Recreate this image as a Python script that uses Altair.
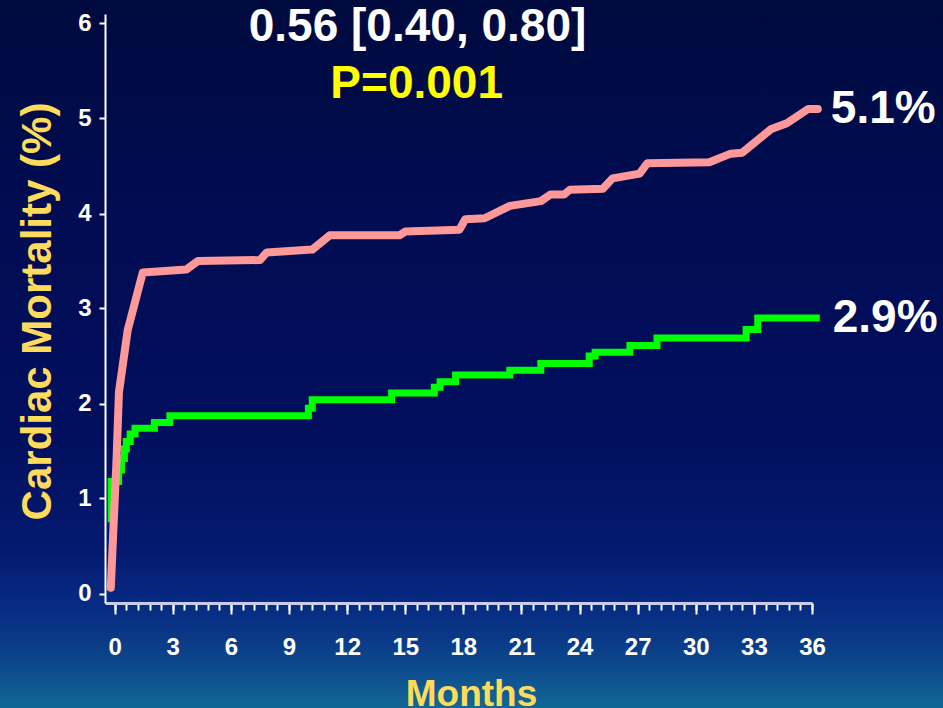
import altair as alt
import pandas as pd

# Cumulative cardiac mortality (%) by month of follow-up
pink_month = [-0.2, -0.08, 0.09, 0.22, 0.67, 1.45, 3.7, 4.3, 7.5, 7.85, 10.2, 11.1,
              14.7, 15.0, 17.8, 18.1, 19.1, 20.4, 22.0, 22.5, 23.2, 23.5, 25.2, 25.7,
              27.1, 27.5, 30.7, 31.8, 32.4, 33.9, 34.7, 35.8, 36.3]
pink_pct = [0.06, 0.62, 1.38, 2.12, 2.77, 3.38, 3.41, 3.50, 3.51, 3.59, 3.62, 3.77,
            3.77, 3.81, 3.83, 3.94, 3.95, 4.08, 4.13, 4.20, 4.20, 4.25, 4.26, 4.37,
            4.42, 4.53, 4.54, 4.63, 4.64, 4.89, 4.95, 5.10, 5.10]

green_month = [-0.25, -0.18, 0.2, 0.35, 0.5, 0.6, 0.8, 1.05, 2.05, 2.85, 10.0, 10.2,
               14.3, 16.5, 16.8, 17.6, 20.4, 22.0, 24.5, 24.8, 26.6, 28.0, 32.6, 33.2, 36.4]
green_pct = [0.75, 1.18, 1.30, 1.42, 1.52, 1.60, 1.68, 1.74, 1.80, 1.87, 1.95, 2.04,
             2.11, 2.17, 2.23, 2.30, 2.35, 2.42, 2.50, 2.54, 2.61, 2.69, 2.78, 2.90, 2.90]

major_ticks = list(range(0, 37, 3))
minor_ticks = [round(i * 0.6, 1) for i in range(61)]
y_ticks = [0, 1, 2, 3, 4, 5, 6]

headline = "0.56 [0.40, 0.80]"
p_text = "P=0.001"

FONT = "Liberation Sans"
YELLOW = "#FFDB5C"
PINK = "#FF9999"
GREEN = "#00FF00"

x_scale = alt.Scale(domain=[-0.5, 36], nice=False, zero=False)
y_scale = alt.Scale(domain=[-0.1, 6.1], nice=False, zero=False)

y_axis = alt.Axis(
    values=y_ticks, tickSize=6, tickWidth=2, tickColor="white",
    labelFont=FONT, labelFontSize=24, labelFontWeight="bold", labelColor="white",
    labelPadding=8, domainColor="white", domainWidth=2, grid=False, zindex=1,
    title="Cardiac Mortality (%)", titleFont=FONT, titleFontSize=42,
    titleFontWeight="bold", titleColor=YELLOW, titleAngle=270,
    titleX=-55, titleY=297, titleBaseline="alphabetic", titleAlign="center",
)
major_x_axis = alt.Axis(
    orient="bottom",
    values=major_ticks, tickSize=11, tickWidth=2, tickColor="white",
    labelFont=FONT, labelFontSize=24, labelFontWeight="bold", labelColor="white",
    labelPadding=21, labelFlush=False, labelOverlap=False,
    domainColor="#C8CCEA", domainWidth=3, grid=False, zindex=1,
    title="Months", titleFont=FONT, titleFontSize=37, titleFontWeight="bold",
    titleColor=YELLOW, titleX=366, titleY=102, titleBaseline="alphabetic",
    titleAlign="center",
)
minor_x_axis = alt.Axis(
    orient="bottom",
    values=minor_ticks, tickSize=7, tickWidth=2, tickColor="white",
    labels=False, domain=False, grid=False, zindex=1,
)

pink_df = pd.DataFrame({"month": pink_month, "pct": pink_pct})
green_df = pd.DataFrame({"month": green_month, "pct": green_pct})

# Slide-style background gradient
background = alt.Chart(pd.DataFrame({"k": [0]})).mark_rect(
    color=alt.LinearGradient(
        gradient="linear",
        stops=[
            alt.GradientStop(color="#000a3e", offset=0.0),
            alt.GradientStop(color="#010c52", offset=0.3),
            alt.GradientStop(color="#020f5e", offset=0.62),
            alt.GradientStop(color="#041a70", offset=0.78),
            alt.GradientStop(color="#072a82", offset=0.85),
            alt.GradientStop(color="#0a3886", offset=0.9),
            alt.GradientStop(color="#0d4e8e", offset=0.95),
            alt.GradientStop(color="#126896", offset=1.0),
        ],
        x1=0, x2=0, y1=0, y2=1,
    )
).encode(x=alt.value(-105), x2=alt.value(838), y=alt.value(-14), y2=alt.value(694))

green = alt.Chart(green_df).mark_line(
    color=GREEN, strokeWidth=7, interpolate="step-after", strokeCap="butt"
).encode(
    x=alt.X("month:Q", scale=x_scale, axis=minor_x_axis, title=None),
    y=alt.Y("pct:Q", scale=y_scale, axis=y_axis),
)

pink = alt.Chart(pink_df).mark_line(
    color=PINK, strokeWidth=8, strokeCap="round", strokeJoin="round"
).encode(
    x=alt.X("month:Q", scale=x_scale, axis=major_x_axis),
    y=alt.Y("pct:Q", scale=y_scale, axis=y_axis),
)

# End-of-follow-up labels taken from the last point of each curve
end_df = pd.DataFrame({
    "month": [pink_month[-1], green_month[-1]],
    "pct": [pink_pct[-1], green_pct[-1]],
})
end_df["label"] = [f"{v:.1f}%" for v in end_df["pct"]]

end_labels = alt.Chart(end_df).mark_text(
    align="left", baseline="middle", font=FONT, fontSize=46, fontWeight="bold",
    color="white", dx=13,
).encode(
    x=alt.X("month:Q", scale=x_scale, axis=None),
    y=alt.Y("pct:Q", scale=y_scale, axis=y_axis),
    text="label:N",
)


def caption(text, color, x, y):
    return alt.Chart(pd.DataFrame({"t": [text]})).mark_text(
        align="center", baseline="alphabetic", font=FONT, fontSize=46,
        fontWeight="bold", color=color,
    ).encode(text="t:N", x=alt.value(x), y=alt.value(y))


layers = [
    background,
    green,
    pink,
    end_labels,
    caption(headline, "white", 312.5, 27),
    caption(p_text, "#FFFF00", 311.7, 84),
]

chart = alt.layer(*layers).resolve_axis(x="independent").properties(
    width=707,
    height=589,
    padding={"left": 105, "top": 14, "right": 131, "bottom": 105},
    autosize=alt.AutoSizeParams(type="none"),
).configure_view(strokeWidth=0).configure(background="#010b45")

chart.save("out.html", embed_options={"renderer": "svg", "actions": False})
